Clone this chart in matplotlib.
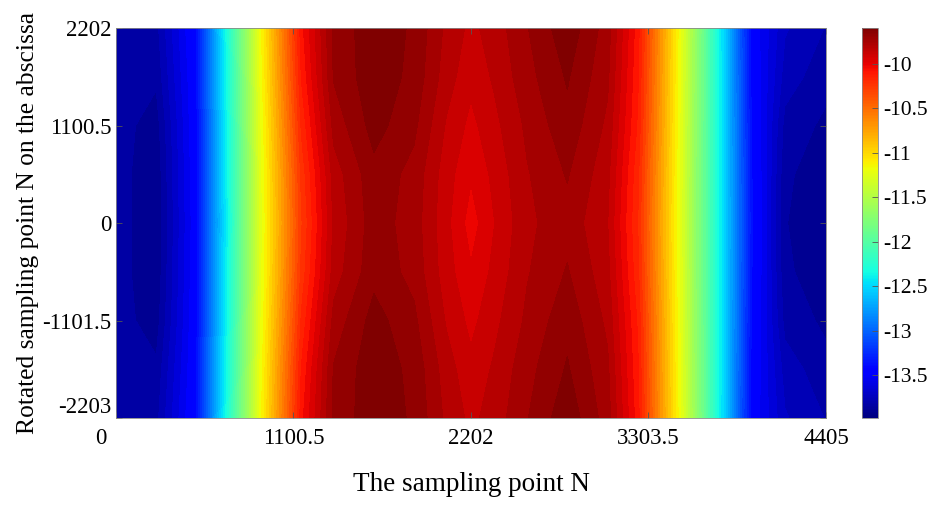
import numpy as np
import matplotlib
matplotlib.use("Agg")
import matplotlib.pyplot as plt
from matplotlib.colors import Normalize
from matplotlib.cm import ScalarMappable
from matplotlib.transforms import ScaledTranslation

plt.rcParams['font.family'] = ['Liberation Serif', 'DejaVu Serif']

# sample positions
n_x = [0, 250, 490, 690, 890, 1150, 1350, 1600, 1850, 2050, 2202,
       2350, 2550, 2800, 3050, 3240, 3510, 3735, 3950, 4150, 4405]
y_half = [0, 550, 1100, 1650, 2202]          # upper half, lower half mirrored

# values per row (y = 0, 550, 1100, 1650, 2202)
row_0 = [-13.83, -13.92, -13.48, -12.40, -11.28, -10.27, -9.84, -9.68, -9.75, -9.90, -10.02,
         -9.92, -9.80, -9.74, -9.85, -10.20, -11.28, -12.34, -13.40, -13.86, -13.92]
row_550 = [-13.83, -13.92, -13.47, -12.39, -11.27, -10.24, -9.82, -9.67, -9.74, -9.89, -9.98,
           -9.90, -9.79, -9.71, -9.83, -10.18, -11.27, -12.34, -13.41, -13.85, -13.91]
row_1100 = [-13.83, -13.90, -13.46, -12.37, -11.25, -10.18, -9.76, -9.62, -9.70, -9.86, -9.94,
            -9.87, -9.77, -9.67, -9.80, -10.14, -11.26, -12.34, -13.43, -13.82, -13.88]
row_1650 = [-13.83, -13.85, -13.45, -12.34, -11.22, -10.12, -9.71, -9.60, -9.67, -9.82, -9.90,
            -9.84, -9.74, -9.64, -9.77, -10.12, -11.25, -12.34, -13.45, -13.76, -13.84]
row_2202 = [-13.82, -13.82, -13.43, -12.32, -11.20, -10.08, -9.70, -9.60, -9.66, -9.80, -9.87,
            -9.82, -9.72, -9.60, -9.75, -10.10, -11.24, -12.34, -13.47, -13.72, -13.80]

xticks = [0, 1100.5, 2202, 3303.5, 4405]
yticks = [-2203, -1101.5, 0, 1100.5, 2202]
cbar_ticks = [-10, -10.5, -11, -11.5, -12, -12.5, -13, -13.5]
vmin, vmax = -13.98, -9.6

half = [row_0, row_550, row_1100, row_1650, row_2202]
y_full = [-2203] + [-v for v in y_half[3:0:-1]] + y_half
z_full = np.array(half[:0:-1] + half)

fig = plt.figure(figsize=(9.34, 5.15), dpi=100)
ax = fig.add_axes([0.1242, 0.1883, 0.7602, 0.7573])
cax = fig.add_axes([0.9229, 0.1883, 0.0171, 0.7573])

levels = np.linspace(-14.0, -9.58, 66)
ax.contourf(n_x, y_full, z_full, levels=levels, cmap='jet',
            norm=Normalize(vmin, vmax), extend='both')

ax.set_xlim(0, 4405)
ax.set_ylim(-2203, 2202)
ax.set_xticks(xticks)
ax.set_xticklabels(['0', '1100.5', '2202', '3303.5', '4405'])
ax.set_yticks(yticks)
ax.set_yticklabels(['-2203', '-1101.5', '0', '1100.5', '2202'])
ax.tick_params(direction='in', length=4, width=0.6, color='#555555',
               labelsize=16.5, top=True, right=True)
ax.tick_params(axis='x', pad=7)
ax.get_yticklabels()[0].set_va('bottom')
# the "0" on x sits a bit left of the corner, like in the source figure
lab0 = ax.get_xticklabels()[0]
lab0.set_transform(lab0.get_transform() + ScaledTranslation(-0.15, 0, fig.dpi_scale_trans))
for s in ax.spines.values():
    s.set_linewidth(0.6)
    s.set_color('#888888')

ax.set_xlabel('The sampling point N', fontsize=19.5, labelpad=17)
ax.set_ylabel('Rotated sampling point N on the abscissa', fontsize=18.4, labelpad=2.5)

sm = ScalarMappable(norm=Normalize(vmin, vmax), cmap='jet')
cb = fig.colorbar(sm, cax=cax, ticks=cbar_ticks)
cb.ax.set_yticklabels(['-10', '-10.5', '-11', '-11.5', '-12', '-12.5', '-13', '-13.5'])
cb.ax.tick_params(direction='in', length=4, width=0.6, color='#555555', labelsize=15.5)
cb.outline.set_linewidth(0.6)
cb.outline.set_edgecolor('#888888')

fig.savefig('out.png', dpi=100)
